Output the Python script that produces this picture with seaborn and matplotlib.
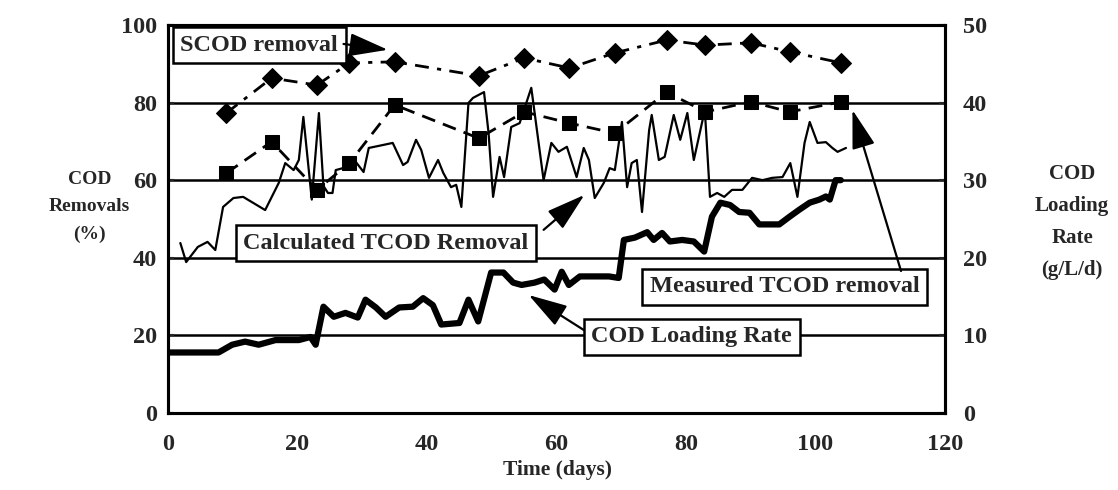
import matplotlib
matplotlib.use('Agg')
import matplotlib.pyplot as plt
import seaborn as sns

# SCOD removal (%), diamonds
scod_day = [9, 16, 23, 28, 35, 48, 55, 62, 69, 77, 83, 90, 96, 104]
scod_removal = [77.3, 86.3, 84.5, 90.2, 90.5, 86.9, 91.5, 88.9, 92.8, 96.1, 94.8, 95.4, 93.1, 90.2]

# Measured TCOD removal (%), squares
meas_day = [9, 16, 23, 28, 35, 48, 55, 62, 69, 77, 83, 90, 96, 104]
meas_removal = [61.8, 69.9, 57.5, 64.4, 79.4, 70.8, 77.6, 74.7, 72.1, 82.7, 77.6, 80.2, 77.6, 80.2]

# Calculated TCOD removal (%), thin line
calc_day = [1.9, 2.8, 4.6, 6.1, 7.3, 8.5, 10.1, 11.6, 13.2, 15.0,
            17.1, 18.1, 19.4, 20.2, 20.9, 22.2, 23.3, 24.0, 24.7, 25.4,
            25.9, 27.0, 29.0, 30.2, 31.0, 33.3, 34.7, 36.3, 37.0, 38.3,
            39.1, 40.3, 41.7, 42.5, 43.7, 44.5, 45.3, 46.4, 47.1, 48.8,
            49.5, 50.2, 51.2, 51.9, 53.0, 54.3, 56.1, 58.0, 59.2, 60.3,
            61.6, 63.1, 64.2, 65.0, 65.9, 67.3, 68.2, 69.0, 70.1, 70.9,
            71.6, 72.4, 73.2, 74.3, 74.7, 75.8, 76.7, 78.1, 79.1, 80.2,
            81.2, 82.9, 83.7, 84.8, 85.9, 87.1, 88.7, 90.2, 91.8, 93.3,
            94.9, 96.1, 97.2, 98.3, 99.1, 100.3, 101.6, 102.6, 103.4, 104.7]
calc_removal = [43.8, 38.9, 42.8, 44.1, 42.0, 53.1, 55.4, 55.7, 54.1, 52.3,
                59.3, 64.4, 62.6, 65.2, 76.3, 55.0, 77.3, 58.5, 56.7, 56.7,
                62.6, 63.1, 64.7, 62.1, 68.3, 69.1, 69.6, 63.9, 64.7, 70.4,
                67.8, 60.6, 65.2, 61.9, 58.2, 58.8, 53.1, 79.9, 81.2, 82.7,
                72.2, 55.7, 66.0, 60.8, 73.7, 74.7, 83.8, 60.0, 69.6, 67.3,
                68.6, 60.8, 68.3, 65.2, 55.4, 59.3, 63.1, 62.6, 75.0, 58.2,
                64.4, 65.2, 51.8, 72.9, 76.8, 65.2, 66.0, 76.8, 70.4, 77.3,
                65.2, 78.1, 55.7, 56.7, 55.7, 57.5, 57.5, 60.6, 60.0, 60.6,
                60.8, 64.4, 55.7, 69.6, 75.0, 69.6, 69.8, 68.3, 67.3, 68.3]

# COD loading rate (g/L/d), thick line on right axis
load_day = [0, 7.8, 9.9, 11.9, 14.0, 16.6, 20.2, 22.0, 22.8, 24.0,
            25.6, 27.4, 29.3, 30.5, 32.1, 33.6, 35.7, 37.8, 39.4, 40.9,
            42.2, 45.0, 46.4, 47.9, 49.9, 51.8, 53.3, 54.6, 56.6, 58.1,
            59.7, 60.8, 61.9, 63.6, 65.9, 68.1, 69.6, 70.4, 72.1, 74.0,
            75.0, 76.3, 77.5, 79.4, 81.2, 82.8, 84.0, 85.3, 86.8, 88.2,
            89.8, 91.3, 94.4, 96.0, 97.5, 99.1, 100.6, 101.6, 102.2, 103.1,
            103.9]
load_rate = [7.8, 7.8, 8.8, 9.2, 8.8, 9.4, 9.4, 9.8, 8.8, 13.7,
             12.4, 12.9, 12.3, 14.6, 13.6, 12.4, 13.6, 13.7, 14.8, 13.9,
             11.4, 11.6, 14.6, 11.8, 18.1, 18.1, 16.8, 16.5, 16.8, 17.2,
             15.9, 18.2, 16.5, 17.6, 17.6, 17.6, 17.4, 22.3, 22.6, 23.3,
             22.3, 23.2, 22.1, 22.3, 22.1, 20.8, 25.3, 27.1, 26.8, 25.9,
             25.8, 24.3, 24.3, 25.3, 26.2, 27.1, 27.5, 27.9, 27.5, 30.0,
             30.0]

x_ticks = [0, 20, 40, 60, 80, 100, 120]
left_ticks = [0, 20, 40, 60, 80, 100]
right_ticks = [0, 10, 20, 30, 40, 50]

sns.set_style('white')
plt.rcParams['font.family'] = ['Liberation Serif', 'DejaVu Serif']
plt.rcParams['font.weight'] = 'bold'
plt.rcParams['font.size'] = 17.5

fig = plt.figure(figsize=(11.18, 4.9), dpi=100)
ax = fig.add_axes([0.1503, 0.1571, 0.695, 0.792])
ax2 = ax.twinx()

# calculated removal, thin solid
sns.lineplot(x=calc_day, y=calc_removal, ax=ax, color='black', lw=1.6,
             sort=False, legend=False, zorder=3)
# measured removal, dashed with squares
sns.lineplot(x=meas_day, y=meas_removal, ax=ax, color='black', lw=2.0,
             marker='s', markersize=10, markeredgecolor='black',
             sort=False, legend=False, zorder=4)
ax.lines[-1].set_dashes([5, 3])
# SCOD removal, dash-dot with diamonds
sns.lineplot(x=scod_day, y=scod_removal, ax=ax, color='black', lw=2.0,
             marker='D', markersize=10, markeredgecolor='black',
             sort=False, legend=False, zorder=4)
ax.lines[-1].set_dashes([5, 3, 1.5, 3])
# loading rate, thick
sns.lineplot(x=load_day, y=load_rate, ax=ax2, color='black', lw=4.5,
             sort=False, legend=False)

ax.set_xlim(0, 120)
ax.set_ylim(0, 100)
ax2.set_ylim(0, 50)
ax.set_xticks(x_ticks)
ax.set_yticks(left_ticks)
ax2.set_yticks(right_ticks)
ax.set_xlabel('')
ax.set_ylabel('')
ax2.set_ylabel('')
ax.grid(axis='y', color='black', lw=1.8)
ax.grid(axis='x', visible=False)
ax2.grid(False)

for a in (ax, ax2):
    for sp in a.spines.values():
        sp.set_linewidth(2.2)
        sp.set_color('black')
ax.tick_params(axis='x', direction='in', length=5, width=1.5, pad=15, labelsize=17.5)
ax.tick_params(axis='y', direction='in', length=4, width=1.5, pad=8, labelsize=17.5)
ax2.tick_params(axis='y', direction='in', length=4, width=1.5, pad=13, labelsize=17.5)

box = dict(boxstyle='square,pad=0.3', fc='white', ec='black', lw=1.8)
arrow = dict(arrowstyle='-|>,head_length=1.5,head_width=0.45', color='black',
             lw=1.6, shrinkA=0, shrinkB=0, mutation_scale=16)

ax.text(14.1, 94.8, 'SCOD removal', ha='center', va='center', bbox=box, zorder=6)
ax.annotate('', xy=(33.95, 93.6), xytext=(27.1, 95.1), arrowprops=arrow, zorder=6)

ax.text(33.6, 43.8, 'Calculated TCOD Removal', ha='center', va='center', bbox=box, zorder=6)
ax.annotate('', xy=(64.3, 56.2), xytext=(58.0, 47.2), arrowprops=arrow, zorder=6)

ax.text(95.2, 32.5, 'Measured TCOD removal', ha='center', va='center', bbox=box, zorder=6)
ax.annotate('', xy=(105.7, 78.1), xytext=(113.2, 36.6), arrowprops=arrow, zorder=6)

ax.text(80.9, 19.6, 'COD Loading Rate', ha='center', va='center', bbox=box, zorder=6)
ax.annotate('', xy=(55.7, 30.4), xytext=(64.2, 21.4), arrowprops=arrow, zorder=6)

fig.text(0.080, 0.578, 'COD\nRemovals\n(%)', ha='center', va='center',
         fontsize=14, linespacing=1.8)
fig.text(0.959, 0.547, 'COD\nLoading\nRate\n(g/L/d)', ha='center', va='center',
         fontsize=15, linespacing=1.8)
fig.text(0.499, 0.041, 'Time (days)', ha='center', va='center', fontsize=15.5)

fig.savefig('out.png', dpi=100)
